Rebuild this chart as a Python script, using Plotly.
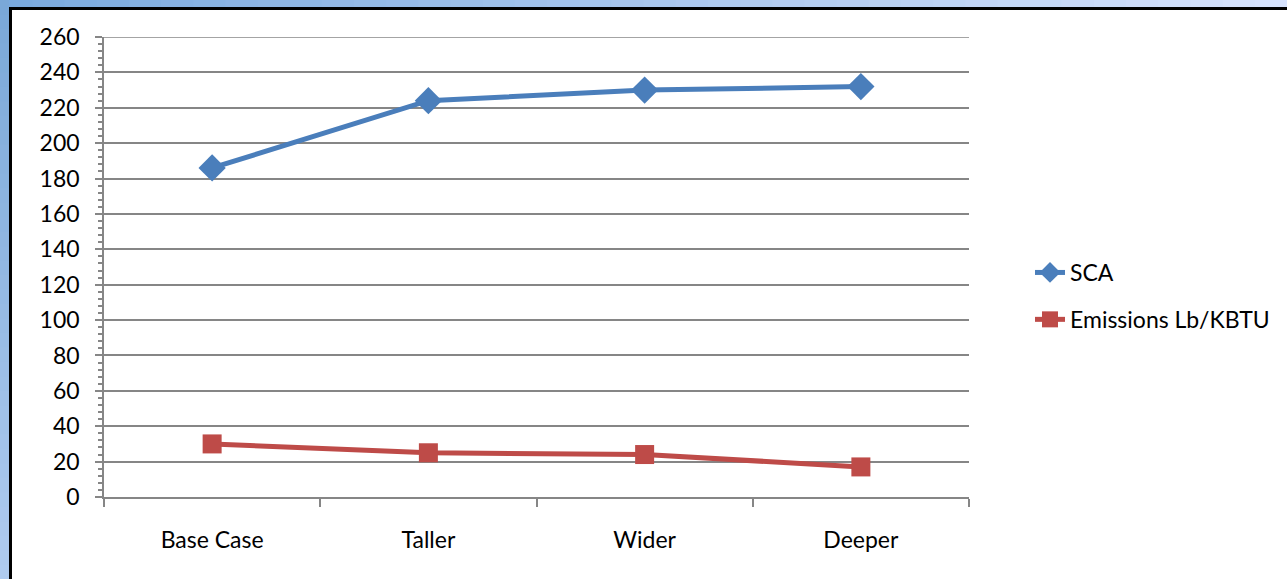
import plotly.graph_objects as go

categories = ["Base Case", "Taller", "Wider", "Deeper"]
sca = [186, 224, 230, 232]
emissions = [30, 25, 24, 17]
series_names = ["SCA", "Emissions Lb/KBTU"]
y_max = 260

W, H = 1287, 579
L, R, T, B = 104, 969, 37, 497

def px_x(p):
    return (p - L) / (R - L)

def px_y(p):
    return (B - p) / (B - T)

def mix(c1, c2, t):
    return "rgb(%d,%d,%d)" % tuple(round(a + (b - a) * t) for a, b in zip(c1, c2))

shapes = []
n = 40
top_a, top_b = (122, 170, 222), (214, 226, 253)
for i in range(n):
    x0 = W * i / n
    x1 = W * (i + 1) / n + 1
    shapes.append(dict(type="rect", xref="paper", yref="paper",
                       x0=px_x(x0), x1=px_x(x1), y0=px_y(8), y1=px_y(-1),
                       fillcolor=mix(top_a, top_b, i / (n - 1)), line=dict(width=0), layer="above"))
left_a, left_b = (122, 168, 216), (175, 203, 239)
for i in range(n):
    y0 = H * i / n
    y1 = H * (i + 1) / n + 1
    shapes.append(dict(type="rect", xref="paper", yref="paper",
                       x0=px_x(-1), x1=px_x(9), y0=px_y(y1), y1=px_y(y0),
                       fillcolor=mix(left_a, left_b, i / (n - 1)), line=dict(width=0), layer="above"))
# black frame
shapes.append(dict(type="line", xref="paper", yref="paper",
                   x0=px_x(9), x1=px_x(W + 5), y0=px_y(8.5), y1=px_y(8.5),
                   line=dict(color="black", width=3), layer="above"))
shapes.append(dict(type="line", xref="paper", yref="paper",
                   x0=px_x(10.5), x1=px_x(10.5), y0=px_y(7), y1=px_y(H + 5),
                   line=dict(color="black", width=3), layer="above"))
# top gridline (at range edge)
shapes.append(dict(type="line", xref="paper", yref="y", x0=0, x1=1, y0=y_max, y1=y_max,
                   line=dict(color="#868686", width=1.5), layer="below"))

font = dict(family="Lato, Carlito, Calibri, sans-serif", size=23, color="black")

fig = go.Figure()
fig.add_trace(go.Scatter(x=categories, y=sca, name=series_names[0], mode="lines+markers",
                         line=dict(color="#4A7EBB", width=5),
                         marker=dict(symbol="diamond", size=21, color="#4A7EBB"),
                         legendgroup="a"))
fig.add_trace(go.Scatter(x=categories, y=emissions, name=series_names[1], mode="lines+markers",
                         line=dict(color="#BE4B48", width=5),
                         marker=dict(symbol="square", size=19, color="#BE4B48"),
                         legendgroup="b"))

fig.update_layout(
    width=W, height=H,
    margin=dict(l=L, r=W - R, t=T, b=H - B, pad=0),
    paper_bgcolor="white", plot_bgcolor="white",
    font=font,
    showlegend=True,
    legend=dict(x=px_x(1030), y=px_y(296), xanchor="left", yanchor="middle",
                traceorder="grouped", tracegroupgap=14, font=font,
                bgcolor="rgba(0,0,0,0)", itemwidth=30),
    xaxis=dict(type="category", range=[-0.5, 3.5], showgrid=False,
               showline=True, linecolor="#868686", linewidth=1.5,
               ticks="outside", ticklen=8, tickcolor="#868686", tickwidth=1.5,
               tickson="boundaries", ticklabelstandoff=22, tickfont=font),
    yaxis=dict(range=[0, y_max], dtick=20, tick0=0, showgrid=True,
               gridcolor="#868686", gridwidth=1.5,
               showline=True, linecolor="#868686", linewidth=1.5,
               ticks="outside", ticklen=7, tickcolor="#868686", tickwidth=1.5,
               ticklabelstandoff=11, tickfont=font, zeroline=False,
               minor=dict(dtick=4, ticks="outside", ticklen=4, tickcolor="#868686",
                          tickwidth=1.5, showgrid=False)),
    shapes=shapes,
)

fig.write_html("out.html", config={"displayModeBar": False},
               post_script="document.body.style.margin='0';")
